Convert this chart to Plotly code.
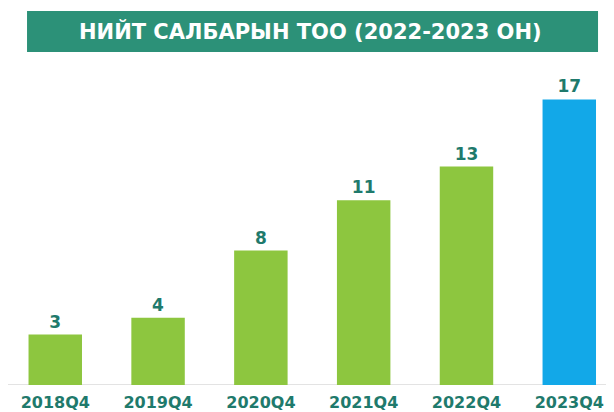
import plotly.graph_objects as go

categories = ["2018Q4", "2019Q4", "2020Q4", "2021Q4", "2022Q4", "2023Q4"]
values = [3, 4, 8, 11, 13, 17]
title_text = "НИЙТ САЛБАРЫН ТОО (2022-2023 ОН)"

colors = ["#8DC63F"] * 5 + ["#12A8E8"]
teal = "#1F7A6C"

fig = go.Figure(go.Bar(
    x=categories, y=values,
    marker=dict(color=colors, line=dict(width=0)),
    width=0.52,
    text=[str(v) for v in values],
    textposition="outside",
    textfont=dict(family="DejaVu Sans", size=17, color=teal, weight="bold"),
    cliponaxis=False,
))

fig.update_layout(
    width=606, height=404,
    margin=dict(l=1, r=0, t=41, b=27),
    paper_bgcolor="white", plot_bgcolor="white",
    showlegend=False,
    xaxis=dict(range=[-0.45, 5.435], showgrid=False, zeroline=False, showline=False,
               ticks="", ticklabelstandoff=6,
               tickfont=dict(family="DejaVu Sans", size=16, color=teal, weight="bold")),
    yaxis=dict(range=[0, 20], visible=False),
    shapes=[
        dict(type="rect", xref="paper", yref="paper", x0=0.0298, x1=0.9736, y0=0.991, y1=1.113,
             fillcolor="#2C9178", line=dict(width=0), layer="above"),
        dict(type="line", xref="paper", yref="y", x0=-0.01, x1=1.0, y0=0, y1=0,
             line=dict(color="#E3E3E3", width=2), layer="below"),
    ],
    annotations=[
        dict(text=title_text, xref="paper", yref="paper", x=0.499, y=1.052,
             xanchor="center", yanchor="middle", showarrow=False,
             font=dict(family="DejaVu Sans", size=21, color="white", weight="bold")),
    ],
)

fig.write_html("out.html")
